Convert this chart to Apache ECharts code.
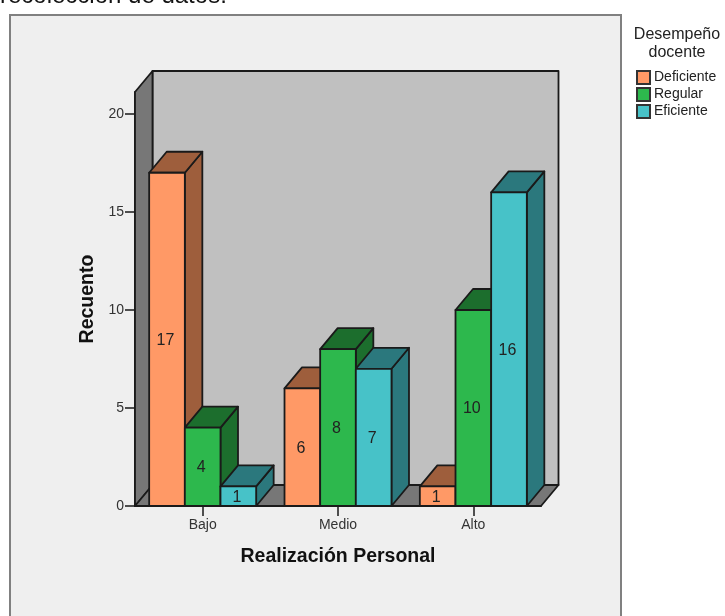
<!DOCTYPE html>
<html>
<head>
<meta charset="utf-8">
<style>
html,body{margin:0;padding:0;background:#fff;overflow:hidden}
#chart{width:725px;height:616px}
</style>
<script src="https://cdn.jsdelivr.net/npm/echarts@6/dist/echarts.min.js"></script>
</head>
<body>
<div id="chart"></div>
<script>
var categories = ['Bajo', 'Medio', 'Alto']
var deficiente = [17, 6, 1]
var regular = [4, 8, 10]
var eficiente = [1, 7, 16]
var yTicks = [0, 5, 10, 15, 20]

var fontName = '"Liberation Sans", Arial, sans-serif'
var lineColor = '#1a1a1a'
var lineSize = 1.8
var depthX = 17.5
var depthY = 21

function drawWalls(params, api) {
	var c = params.coordSys
	var l = c.x, t = c.y, r = c.x + c.width, b = c.y + c.height
	var style = { stroke: lineColor, lineWidth: lineSize, lineJoin: 'round' }
	return {
		type: 'group',
		children: [
			{ type: 'rect', shape: { x: l + depthX, y: t - depthY, width: c.width, height: c.height },
				style: Object.assign({ fill: '#c0c0c0' }, style) },
			{ type: 'polygon', shape: { points: [[l, t], [l + depthX, t - depthY], [l + depthX, b - depthY], [l, b]] },
				style: Object.assign({ fill: '#777777' }, style) },
			{ type: 'polygon', shape: { points: [[l, b], [l + depthX, b - depthY], [r + depthX, b - depthY], [r, b]] },
				style: Object.assign({ fill: '#777777' }, style) }
		]
	}
}

function barRenderer(index, front, dark) {
	return function (params, api) {
		var top = api.coord([api.value(0), api.value(1)])
		var base = api.coord([api.value(0), 0])
		var w = api.size([1, 0])[0] * 0.2635
		var x0 = top[0] + (index - 1.5) * w
		var x1 = x0 + w
		var y0 = top[1]
		var y1 = base[1]
		var style = { stroke: lineColor, lineWidth: lineSize, lineJoin: 'round' }
		return {
			type: 'group',
			children: [
				{ type: 'polygon', shape: { points: [[x1, y0], [x1 + depthX, y0 - depthY], [x1 + depthX, y1 - depthY], [x1, y1]] },
					style: Object.assign({ fill: dark }, style) },
				{ type: 'polygon', shape: { points: [[x0, y0], [x0 + depthX, y0 - depthY], [x1 + depthX, y0 - depthY], [x1, y0]] },
					style: Object.assign({ fill: dark }, style) },
				{ type: 'rect', shape: { x: x0, y: y0, width: w, height: y1 - y0 },
					style: Object.assign({ fill: front }, style) },
				{ type: 'text', style: { x: (x0 + x1) / 2 - 1.5, y: (y0 + y1) / 2 + 1, text: String(api.value(1)),
					fill: '#222', font: '16px ' + fontName, align: 'center', verticalAlign: 'middle' } }
			]
		}
	}
}

function barSeries(name, values, index, front, dark) {
	return {
		type: 'custom',
		name: name,
		z: 3,
		itemStyle: { color: front, borderColor: '#333', borderWidth: 1.5 },
		renderItem: barRenderer(index, front, dark),
		encode: { x: 0, y: 1 },
		data: values.map(function (v, i) { return [i, v] })
	}
}

var myChart = echarts.init(document.getElementById('chart'), null, { renderer: 'canvas' })
var option = {
	animation: false,
	backgroundColor: '#ffffff',
	textStyle: { fontFamily: fontName },
	grid: { left: 135, top: 92, width: 406, height: 414, containLabel: false },
	title: {
		text: 'Desempeño\ndocente',
		left: 672,
		top: 21,
		padding: 5,
		textAlign: 'center',
		textStyle: { fontSize: 16, fontWeight: 'normal', color: '#222', lineHeight: 18, fontFamily: fontName }
	},
	legend: {
		orient: 'vertical',
		left: 636,
		top: 70,
		padding: 0,
		itemWidth: 13,
		itemHeight: 13,
		itemGap: 2,
		icon: 'rect',
		data: ['Deficiente', 'Regular', 'Eficiente'],
		textStyle: { fontSize: 14, color: '#222', fontFamily: fontName, padding: [0, 0, 0, -1] }
	},
	graphic: [
		{ type: 'rect', z: -10, silent: true, shape: { x: 10, y: 15, width: 611, height: 610 },
			style: { fill: '#efefef', stroke: '#808080', lineWidth: 2 } },
		{ type: 'text', z: -10, silent: true, left: 0, top: -16,
			style: { text: 'recolección de datos.', fill: '#111', font: '24px ' + fontName } }
	],
	xAxis: {
		type: 'category',
		data: categories,
		name: 'Realización Personal',
		nameLocation: 'middle',
		nameGap: 41,
		nameTextStyle: { fontSize: 19.5, fontWeight: 'bold', color: '#111', fontFamily: fontName },
		axisLine: { lineStyle: { color: lineColor, width: lineSize } },
		axisTick: { show: true, alignWithLabel: true, length: 10, lineStyle: { color: lineColor, width: 1.5 } },
		axisLabel: { fontSize: 14, color: '#333', margin: 12, fontFamily: fontName }
	},
	yAxis: {
		type: 'value',
		min: 0,
		max: 21.12,
		name: 'Recuento',
		nameLocation: 'middle',
		nameGap: 36,
		nameTextStyle: { fontSize: 19.5, fontWeight: 'bold', color: '#111', fontFamily: fontName },
		splitLine: { show: false },
		axisLine: { show: true, lineStyle: { color: lineColor, width: lineSize } },
		axisTick: { show: true, length: 10, customValues: yTicks, lineStyle: { color: lineColor, width: 1.5 } },
		axisLabel: { fontSize: 14, color: '#333', margin: 11, customValues: yTicks, fontFamily: fontName }
	},
	series: [
		{ type: 'custom', z: 1, silent: true, renderItem: drawWalls, data: [[0, 0]] },
		barSeries('Deficiente', deficiente, 0, '#ff9966', '#9e5e3c'),
		barSeries('Regular', regular, 1, '#2db84d', '#1c6e2d'),
		barSeries('Eficiente', eficiente, 2, '#47c2c8', '#2b787d')
	]
}
myChart.setOption(option)
</script>
</body>
</html>
